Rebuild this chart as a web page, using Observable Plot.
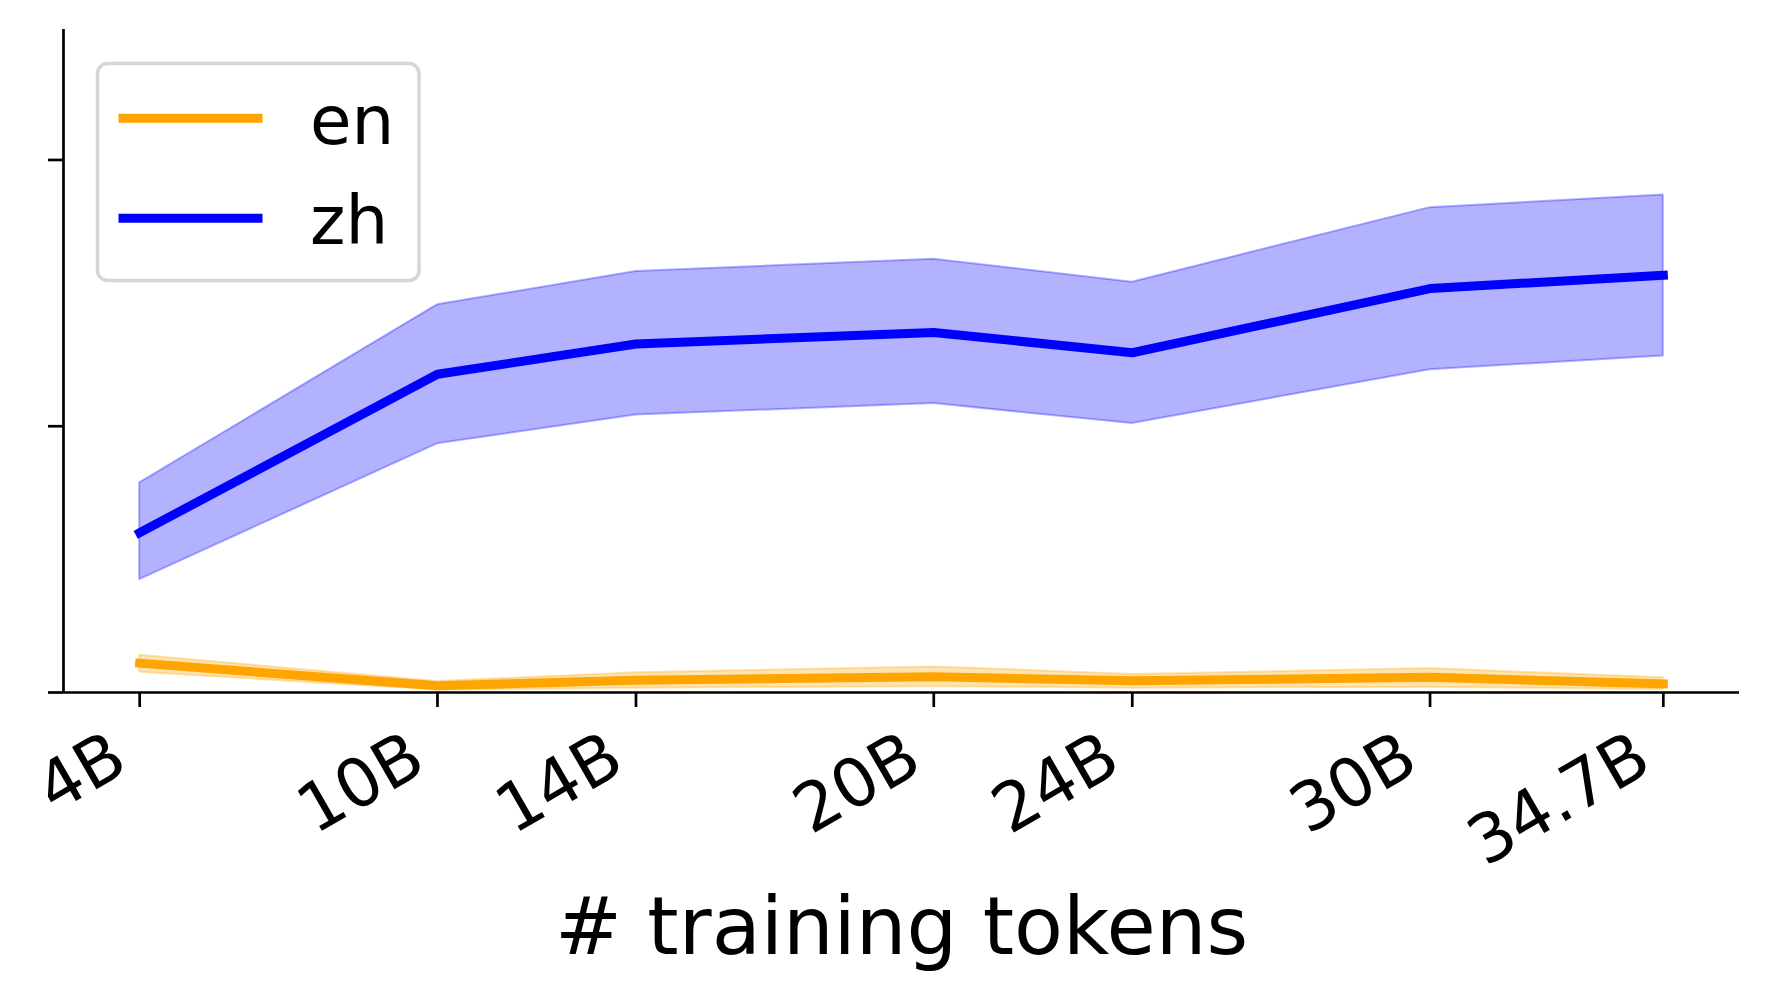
<!DOCTYPE html>
<html>
<head>
<meta charset="utf-8">
<script src="https://cdn.jsdelivr.net/npm/d3@7"></script>
<script src="https://cdn.jsdelivr.net/npm/@observablehq/plot@0.6"></script>
<style>
  html, body { margin: 0; padding: 0; background: #fff; }
  #wrap { position: relative; width: 1768px; height: 1001px; }
  #legend { position: absolute; left: 0; top: 0; }
</style>
</head>
<body>
<div id="wrap"></div>
<script>
// ---- data ----
const tokens = [4, 10, 14, 20, 24, 30, 34.7];
const tickLabels = ["4B", "10B", "14B", "20B", "24B", "30B", "34.7B"];
const zhMean = [0.600, 1.195, 1.309, 1.352, 1.276, 1.517, 1.567];
const zhLow  = [0.424, 0.934, 1.042, 1.085, 1.010, 1.212, 1.264];
const zhHigh = [0.787, 1.456, 1.581, 1.627, 1.541, 1.821, 1.868];
const enMean = [0.110, 0.025, 0.046, 0.059, 0.044, 0.057, 0.032];
const enLow  = [0.076, 0.009, 0.016, 0.022, 0.016, 0.019, 0.011];
const enHigh = [0.140, 0.041, 0.074, 0.096, 0.068, 0.090, 0.055];
const yTicks = [0, 1, 2];
const seriesNames = ["en", "zh"];
const seriesColors = ["#FFA500", "#0000FF"];
const xLabel = "# training tokens";

const en = tokens.map((t, i) => ({t, m: enMean[i], lo: enLow[i], hi: enHigh[i]}));
const zh = tokens.map((t, i) => ({t, m: zhMean[i], lo: zhLow[i], hi: zhHigh[i]}));
const ticks = tokens.map((t, i) => ({t, label: tickLabels[i]}));

const FONT = "DejaVu Sans, sans-serif";
const LW = 9;

const chart = Plot.plot({
  width: 1768,
  height: 1001,
  marginLeft: 63,
  marginRight: 29,
  marginTop: 29,
  marginBottom: 309,
  style: {fontFamily: FONT, fontSize: "67px", background: "#fff", color: "#000"},
  x: {domain: [2.465, 36.235], axis: null},
  y: {domain: [0, 2.49], axis: null},
  marks: [
    Plot.areaY(en, {x: "t", y1: "lo", y2: "hi", fill: seriesColors[0], fillOpacity: 0.3,
      stroke: seriesColors[0], strokeOpacity: 0.3, strokeWidth: 2}),
    Plot.lineY(en, {x: "t", y: "m", stroke: seriesColors[0], strokeWidth: LW,
      strokeLinecap: "square", strokeLinejoin: "round"}),
    Plot.areaY(zh, {x: "t", y1: "lo", y2: "hi", fill: seriesColors[1], fillOpacity: 0.3,
      stroke: seriesColors[1], strokeOpacity: 0.3, strokeWidth: 2}),
    Plot.lineY(zh, {x: "t", y: "m", stroke: seriesColors[1], strokeWidth: LW,
      strokeLinecap: "square", strokeLinejoin: "round"}),
    // spines
    Plot.ruleY([0], {stroke: "#000", strokeWidth: 2.7}),
    Plot.ruleX([2.465], {stroke: "#000", strokeWidth: 2.7}),
    // ticks
    Plot.axisX({ticks: tokens, tickSize: 15, tickFormat: () => "", strokeWidth: 2.7, stroke: "#000", label: null}),
    Plot.axisY({ticks: yTicks, tickSize: 15, tickFormat: () => "", strokeWidth: 2.7, stroke: "#000", label: null}),
    // tick labels
    Plot.text(ticks, {x: "t", text: "label", frameAnchor: "bottom", rotate: -30,
      textAnchor: "end", lineAnchor: "bottom", dx: -9, dy: 77, fontSize: 67, fill: "#000"}),
    // x label
    Plot.text([xLabel], {frameAnchor: "bottom", lineAnchor: "bottom", dy: 261, fontSize: 80, fill: "#000"})
  ]
});

const wrap = document.getElementById("wrap");
wrap.appendChild(chart);

// legend (drawn in an overlaid SVG)
const leg = d3.select(wrap).append("svg")
  .attr("id", "legend").attr("width", 1768).attr("height", 1001)
  .style("pointer-events", "none");
leg.append("rect")
  .attr("x", 97.5).attr("y", 63.5).attr("width", 321.5).attr("height", 217)
  .attr("rx", 10).attr("ry", 10)
  .attr("fill", "#fff").attr("fill-opacity", 0.8)
  .attr("stroke", "#d6d6d6").attr("stroke-width", 3.5);
const rowsY = [118.3, 218.3];
seriesNames.forEach((name, i) => {
  leg.append("line")
    .attr("x1", 123).attr("x2", 258).attr("y1", rowsY[i]).attr("y2", rowsY[i])
    .attr("stroke", seriesColors[i]).attr("stroke-width", LW).attr("stroke-linecap", "square");
  leg.append("text")
    .attr("x", 310).attr("y", rowsY[i] + 25.5)
    .attr("font-family", FONT).attr("font-size", 67.5).attr("fill", "#000")
    .text(name);
});
</script>
</body>
</html>
